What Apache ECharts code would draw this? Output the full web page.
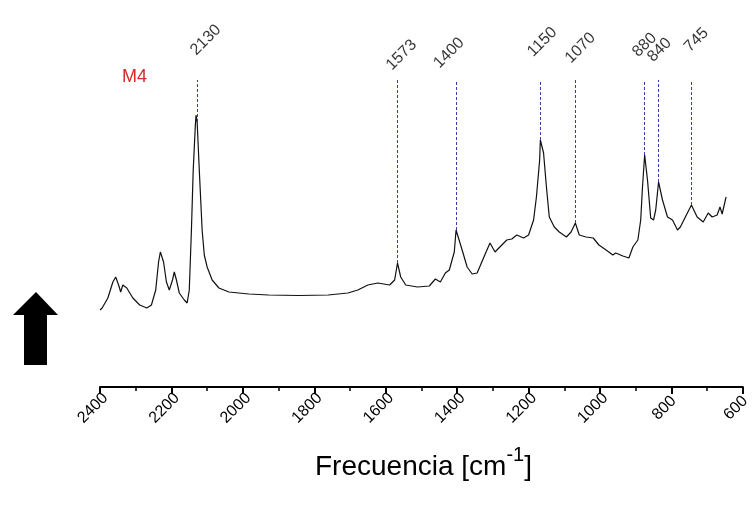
<!DOCTYPE html>
<html>
<head>
<meta charset="utf-8">
<script src="https://cdn.jsdelivr.net/npm/echarts@6/dist/echarts.min.js"></script>
<style>
html,body{margin:0;padding:0;background:#fff;}
#c{width:753px;height:509px;}
</style>
</head>
<body>
<div id="c"></div>
<script>
// ---- data ----
const wavenumber = [2400,2394,2378,2364,2356,2347,2342,2336,2325,2308,2289,2269,2256,2244,2236,2231,2222,2214,2206,2197,2192,2186,2178,2164,2156,2150,2144,2139,2133,2131,2128,2122,2114,2108,2100,2086,2067,2039,1983,1928,1844,1761,1706,1678,1650,1622,1589,1575,1567,1558,1544,1511,1478,1461,1447,1433,1422,1408,1403,1386,1372,1358,1344,1325,1308,1294,1275,1261,1247,1233,1214,1200,1186,1178,1169,1167,1158,1150,1142,1128,1114,1094,1081,1069,1058,1039,1019,1003,983,964,956,936,919,908,894,886,881,875,867,858,850,844,836,825,811,797,783,775,761,744,728,711,697,686,672,664,658,647];
const intensity = [77,79,89,105,110,101,95,102,99,89,82,79,82,97,125,135,125,105,97,107,115,107,94,87,84,97,157,217,262,272,265,217,157,132,120,107,99,95,93,92,91.5,92,94,97,102,104,102,107,124,110,102,100,101,108,105,114,117,135,157,137,120,113,114,130,144,135,142,147,148,152,149,152,167,190,227,247,234,200,170,160,155,150,155,164,152,150,149,142,137,132,134,131,129,140,147,167,200,232,207,169,167,177,205,187,170,167,157,160,170,182,170,165,174,170,172,180,173,190];
const peakPos    = [2129,1567,1403,1167,1069,875,836,744];
const peakLabels = ['2130','1573','1400','1150','1070','880','840','745'];
const xTicks = {min:600, max:2400, step:200};
const sampleName = 'M4';
const axisTitle = 'Frecuencia [cm';
const axisTitleSup = '-1';

// ---- layout / style ----
const lineTop = 307;               // value where dashed lines start (top)
// desired on-screen offset (px) of each label centre from the top of its dashed line
const labelNudge = [[9,-40],[4,-25],[-7,-27],[2,-38],[5,-32],[0,-35],[1,-30],[5,-40]];
const FONT = 'Liberation Sans, Arial, sans-serif';

const spectrum = wavenumber.map((w,i)=>[w,intensity[i]]);
function peakValue(p){
  let best=null,bd=1e9;
  for(let i=0;i<wavenumber.length;i++){const d=Math.abs(wavenumber[i]-p); if(d<bd){bd=d;best=intensity[i];}}
  return best;
}
// label offset is applied in the rotated frame: un-rotate the wanted screen offset
const c45 = Math.SQRT1_2;
function unrotate(d){ const x=d[0], y=d[1]; return [x*c45 - y*c45, x*c45 + y*c45]; }
const markData = peakPos.map(p=>[{coord:[p,peakValue(p)]},{coord:[p,lineTop]}]);
const labelData = peakPos.map((p,i)=>({
  value:[p,lineTop],
  label:{formatter:peakLabels[i], offset:unrotate(labelNudge[i])}
}));

const chart = echarts.init(document.getElementById('c'));
chart.setOption({
  backgroundColor:'#fff',
  animation:false,
  grid:{left:100,right:5,top:60,bottom:122,containLabel:false},
  xAxis:{
    type:'value', inverse:true, min:xTicks.min, max:xTicks.max, interval:xTicks.step,
    axisLine:{show:true,onZero:false,lineStyle:{color:'#000',width:2}},
    axisTick:{show:true,length:7,lineStyle:{color:'#000',width:2}},
    minorTick:{show:true,splitNumber:2,length:4,lineStyle:{color:'#000',width:1.5}},
    splitLine:{show:false},
    axisLabel:{rotate:45,fontSize:16,color:'#000',fontFamily:FONT,margin:14,
      align:'center',verticalAlign:'middle',padding:[0,20,0,0],
      formatter:v=>String(v)}
  },
  yAxis:{type:'value',min:0,max:327,show:false},
  series:[
    {
      type:'line', data:spectrum, symbol:'none', silent:true,
      lineStyle:{color:'#111',width:1.2},
      markLine:{
        silent:true, symbol:['none','none'],
        lineStyle:{type:[3,2],color:'#3c3ca8',width:1},
        label:{show:false},
        data:markData
      }
    },
    {
      type:'scatter', data:labelData, symbolSize:0, silent:true,
      label:{show:true,position:'inside',rotate:45,align:'center',verticalAlign:'middle',
        fontSize:16,color:'#000',fontFamily:FONT}
    }
  ],
  graphic:[
    {type:'polygon',shape:{points:[[36,292],[13,315],[24,315],[24,365],[47,365],[47,315],[58,315]]},style:{fill:'#000'}},
    {type:'text',left:122,top:68,style:{text:sampleName,fill:'#d42a2a',fontSize:18,fontFamily:FONT}},
    {type:'text',left:315,top:445,
      style:{
        text:'{m|'+axisTitle+'}{s|'+axisTitleSup+'}{m|]}',
        rich:{
          m:{fontSize:28,fill:'#000',fontFamily:FONT,lineHeight:36,verticalAlign:'bottom'},
          s:{fontSize:20,fill:'#000',fontFamily:FONT,lineHeight:36,verticalAlign:'top'}
        }
      }
    }
  ]
});
</script>
</body>
</html>
